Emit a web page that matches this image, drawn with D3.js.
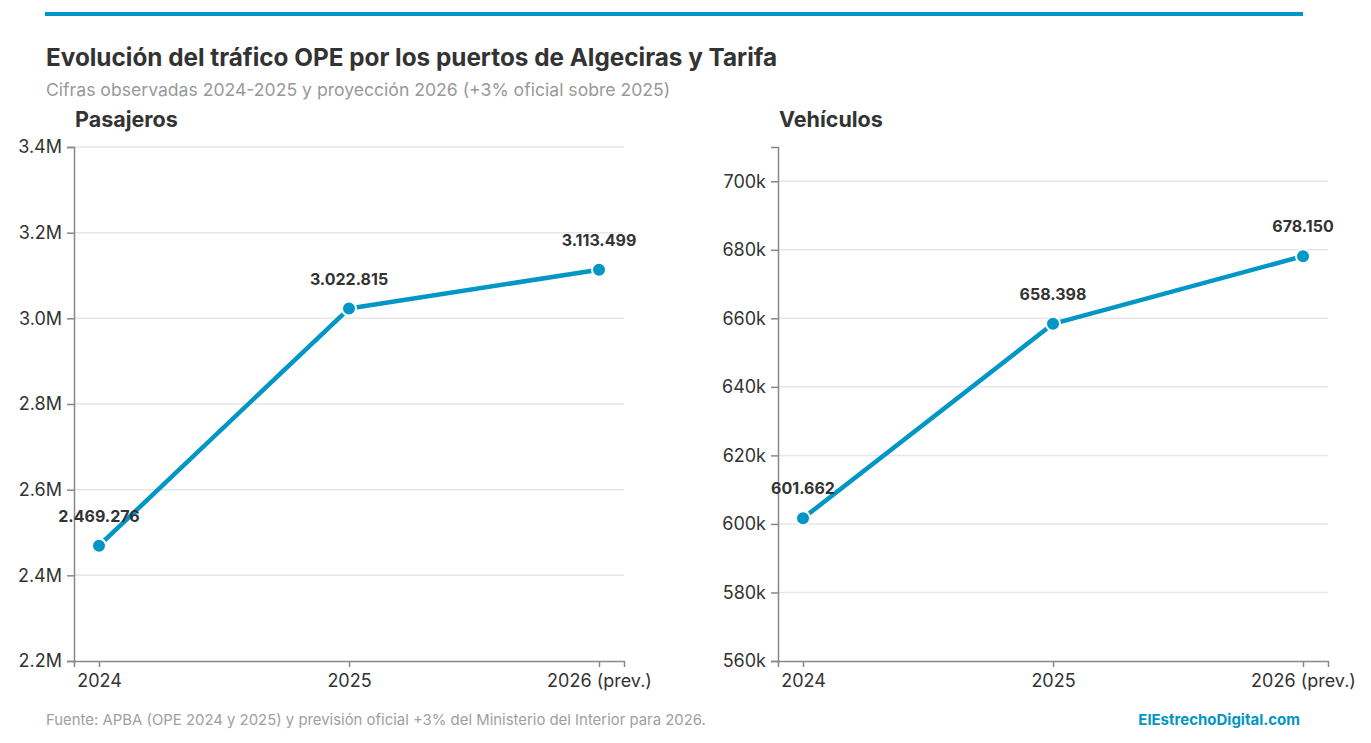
<!DOCTYPE html>
<html>
<head>
<meta charset="utf-8">
<script src="https://cdn.jsdelivr.net/npm/d3@7"></script>
<style>
	body { margin: 0; background: #fff; }
	svg { display: block; font-family: Inter, "Noto Sans", sans-serif; }
</style>
</head>
<body>
<div id="chart"></div>
<script>
// data
var years = ['2024', '2025', '2026 (prev.)'];
var pasajeros = [2469276, 3022815, 3113499];
var vehiculos = [601662, 658398, 678150];
var pasajerosTicks = [2200000, 2400000, 2600000, 2800000, 3000000, 3200000, 3400000];
var vehiculosTicks = [560000, 580000, 600000, 620000, 640000, 660000, 680000, 700000];

var blue = '#0096c6';
var dark = '#333333';

var svg = d3.select('#chart').append('svg')
	.attr('width', 1371)
	.attr('height', 743);

// top rule
svg.append('rect')
	.attr('x', 45).attr('y', 12)
	.attr('width', 1258).attr('height', 4)
	.attr('fill', blue);

svg.append('text')
	.attr('x', 46).attr('y', 66)
	.attr('font-size', 24.3).attr('font-weight', 700)
	.attr('fill', dark)
	.text('Evolución del tráfico OPE por los puertos de Algeciras y Tarifa');

svg.append('text')
	.attr('x', 46).attr('y', 96)
	.attr('font-size', 17.6)
	.attr('fill', '#999')
	.text('Cifras observadas 2024-2025 y proyección 2026 (+3% oficial sobre 2025)');

/**
 * Draw one panel of the chart
 */
function panel(left, title, values, ticks, domain, fmt) {
	var top = 147, bottom = 661, width = 550;

	var x = d3.scalePoint().domain(years).range([left, left + width]).padding(0.1);
	var y = d3.scaleLinear().domain(domain).range([bottom, top]);

	var g = svg.append('g');

	g.append('text')
		.attr('x', left + 1).attr('y', 127)
		.attr('font-size', 21.5).attr('font-weight', 700)
		.attr('fill', dark)
		.text(title);

	// gridlines
	g.selectAll('.grid')
		.data(ticks.slice(1)).enter()
		.append('line')
		.attr('x1', left).attr('x2', left + width)
		.attr('y1', function (d) { return y(d); })
		.attr('y2', function (d) { return y(d); })
		.attr('stroke', '#e6e6e6')
		.attr('stroke-width', 1.5);

	var yAxis = g.append('g')
		.attr('transform', 'translate(' + left + ',0)')
		.call(d3.axisLeft(y).tickValues(ticks).tickFormat(fmt).tickSizeOuter(0).tickSize(7).tickPadding(5));

	var xAxis = g.append('g')
		.attr('transform', 'translate(0,' + bottom + ')')
		.call(d3.axisBottom(x).tickSizeOuter(0).tickSize(6).tickPadding(7));

	[yAxis, xAxis].forEach(function (a) {
		a.selectAll('path, line').attr('stroke', '#888').attr('stroke-width', 1.5);
		a.selectAll('text').attr('font-size', 18).attr('fill', dark).attr('font-family', 'Inter, "Noto Sans", sans-serif');
	});

	var line = d3.line()
		.x(function (d, i) { return x(years[i]); })
		.y(function (d) { return y(d); });

	g.append('path')
		.datum(values)
		.attr('d', line)
		.attr('fill', 'none')
		.attr('stroke', blue)
		.attr('stroke-width', 4.5)
		.attr('stroke-linejoin', 'round');

	g.selectAll('.dot')
		.data(values).enter()
		.append('circle')
		.attr('cx', function (d, i) { return x(years[i]); })
		.attr('cy', function (d) { return y(d); })
		.attr('r', 7)
		.attr('fill', blue)
		.attr('stroke', '#fff')
		.attr('stroke-width', 2);

	var dotted = d3.formatLocale({ decimal: ',', thousands: '.', grouping: [3], currency: ['', ''] }).format(',d');

	g.selectAll('.value')
		.data(values).enter()
		.append('text')
		.attr('x', function (d, i) { return x(years[i]); })
		.attr('y', function (d) { return y(d) - 24; })
		.attr('text-anchor', 'middle')
		.attr('font-size', 16).attr('font-weight', 700)
		.attr('fill', dark)
		.text(function (d) { return dotted(d); });
}

panel(74, 'Pasajeros', pasajeros, pasajerosTicks, [2200000, 3400000], function (d) {
	return (d / 1e6).toFixed(1) + 'M';
});

panel(778, 'Vehículos', vehiculos, vehiculosTicks, [560000, 710000], function (d) {
	return (d / 1e3) + 'k';
});

svg.append('text')
	.attr('x', 46).attr('y', 725)
	.attr('font-size', 14.9)
	.attr('fill', '#a0a0a0')
	.text('Fuente: APBA (OPE 2024 y 2025) y previsión oficial +3% del Ministerio del Interior para 2026.');

svg.append('text')
	.attr('x', 1300).attr('y', 725)
	.attr('text-anchor', 'end')
	.attr('font-size', 15).attr('font-weight', 700)
	.attr('fill', blue)
	.text('ElEstrechoDigital.com');
</script>
</body>
</html>
